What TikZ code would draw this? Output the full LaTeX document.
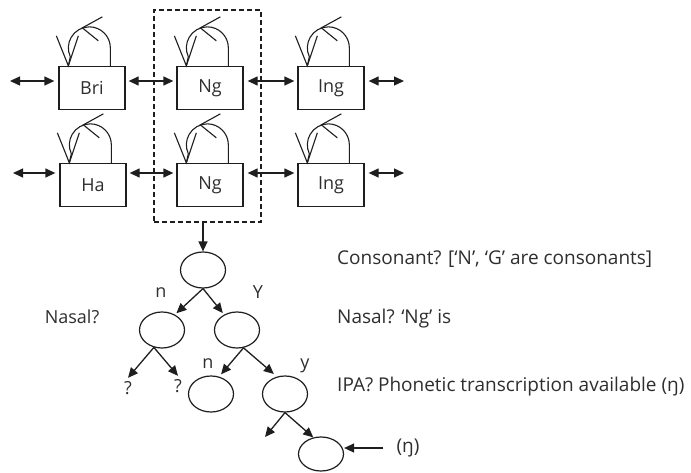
\documentclass[tikz,border=0pt]{standalone}
\usepackage{fontspec}
\setmainfont{Open Sans}
\usetikzlibrary{arrows.meta,shapes.geometric,calc}
\definecolor{ln}{HTML}{1E1E1E}
\definecolor{txt}{HTML}{2E2E2E}
\begin{document}
\begin{tikzpicture}[x=1pt,y=-1pt,
  every node/.style={text=txt},
  box/.style={draw=ln, line width=1.3pt, minimum width=66pt, minimum height=43pt, inner sep=0pt, font=\fontsize{18}{20}\selectfont},
  oval/.style={draw=ln, ellipse, line width=1.2pt, minimum width=45pt, minimum height=36pt, inner sep=0pt},
  arr/.style={-{Triangle[length=10pt,width=9pt]}, line width=1.3pt, draw=ln},
  darr/.style={{Triangle[length=10pt,width=9pt]}-{Triangle[length=10pt,width=9pt]}, line width=1.3pt, draw=ln},
  lbl/.style={font=\fontsize{18}{20}\selectfont},
  rtxt/.style={anchor=west, inner sep=0pt, font=\fontsize{19}{22}\selectfont},
  selfloop/.style={draw=ln, line width=1.1pt}
]
\useasboundingbox (0,0) rectangle (691,473);

% boxes
\node[box] (b1) at (92,88) {Bri};
\node[box] (b2) at (210,88) {Ng};
\node[box] (b3) at (331,88) {Ing};
\node[box] (b4) at (93,185) {Ha};
\node[box] (b5) at (210,185) {Ng};
\node[box] (b6) at (331,185) {Ing};

% self loops
\foreach \b in {b1,b2,b3,b4,b5,b6} {
  \draw[selfloop] ($(\b.north west)+(52,0)$) -- ++(0,-18) arc[start angle=0,end angle=205,radius=21pt] -- ($(\b.north west)+(10,0)$);
  \draw[selfloop] ($(\b.north west)+(-2,-30)$) -- ($(\b.north west)+(10,0)$) -- ($(\b.north west)+(20,-30)$);
  \draw[selfloop] ($(\b.north west)+(44,-49)$) -- ($(\b.north west)+(24,-38)$) -- ($(\b.north west)+(40,-25)$);
}

% horizontal double arrows
\coordinate (l1) at (10,81);
\coordinate (r1) at (404,81);
\coordinate (l2) at (13,173);
\coordinate (r2) at (404,173);
\draw[darr, shorten >=4pt] (l1) -- ([yshift=7pt]b1.west);
\draw[darr, shorten <=3pt, shorten >=3pt] ([yshift=7pt]b1.east) -- ([yshift=7pt]b2.west);
\draw[darr, shorten <=4pt, shorten >=3pt] ([yshift=7pt]b2.east) -- ([yshift=7pt]b3.west);
\draw[darr, shorten <=4pt] ([yshift=7pt]b3.east) -- (r1);
\draw[darr, shorten >=4pt] (l2) -- ([yshift=12pt]b4.west);
\draw[darr, shorten <=3pt, shorten >=3pt] ([yshift=12pt]b4.east) -- ([yshift=12pt]b5.west);
\draw[darr, shorten <=4pt, shorten >=3pt] ([yshift=12pt]b5.east) -- ([yshift=12pt]b6.west);
\draw[darr, shorten <=4pt] ([yshift=12pt]b6.east) -- (r2);

% dashed group
\node[draw=ln, line width=1.2pt, dash pattern=on 5pt off 3pt, minimum width=107pt, minimum height=212pt, inner sep=0pt] (grp) at (207.5,116) {};

% tree
\node[oval] (t0) at (203,270) {};
\node[oval] (t1) at (162,330) {};
\node[oval] (t2) at (237,330) {};
\node[oval] (t3) at (211,394) {};
\node[oval] (t4) at (285,394) {};
\node[oval, minimum height=34pt] (t5) at (321,454) {};

\node[lbl] (q1) at (128,388) {?};
\node[lbl] (q2) at (178,386) {?};
\coordinate (f1) at (265,437);

\draw[arr] (grp.south -| t0.north) -- (t0.north);
\draw[arr, shorten >=2pt] (t0.south) -- (t1.50);
\draw[arr, shorten >=2pt] (t0.south) -- (t2.130);
\draw[arr] (t1.245) -- (q1.north);
\draw[arr] (t1.245) -- (q2.north);
\draw[arr, shorten >=3pt] (t2.290) -- (t3.65);
\draw[arr, shorten >=4pt] (t2.290) -- (t4.115);
\draw[arr] (t4.south) -- (f1);
\draw[arr] (t4.south) -- (t5.115);

\node[lbl, font=\fontsize{19}{22}\selectfont, inner xsep=13pt] (eta) at (408,448) {(ŋ)};
\draw[arr] (eta.west) -- (eta.west -| t5.east);

% labels
\node[lbl] (ln1) at (161,293) {n};
\node[lbl] (lY) at (258,292) {Y};
\node[lbl] (ln2) at (208,364) {n};
\node[lbl] (ly) at (305,366) {y};
\node[lbl] (nasalL) at (72,317) {Nasal?};

\node[rtxt] (c1) at (337,259) {Consonant? [‘N’, ‘G’ are consonants]};
\node[rtxt] (c2) at (337,319) {Nasal? ‘Ng’ is};
\node[rtxt] (c3) at (337,387) {IPA? Phonetic transcription available (ŋ)};
\end{tikzpicture}
\end{document}
